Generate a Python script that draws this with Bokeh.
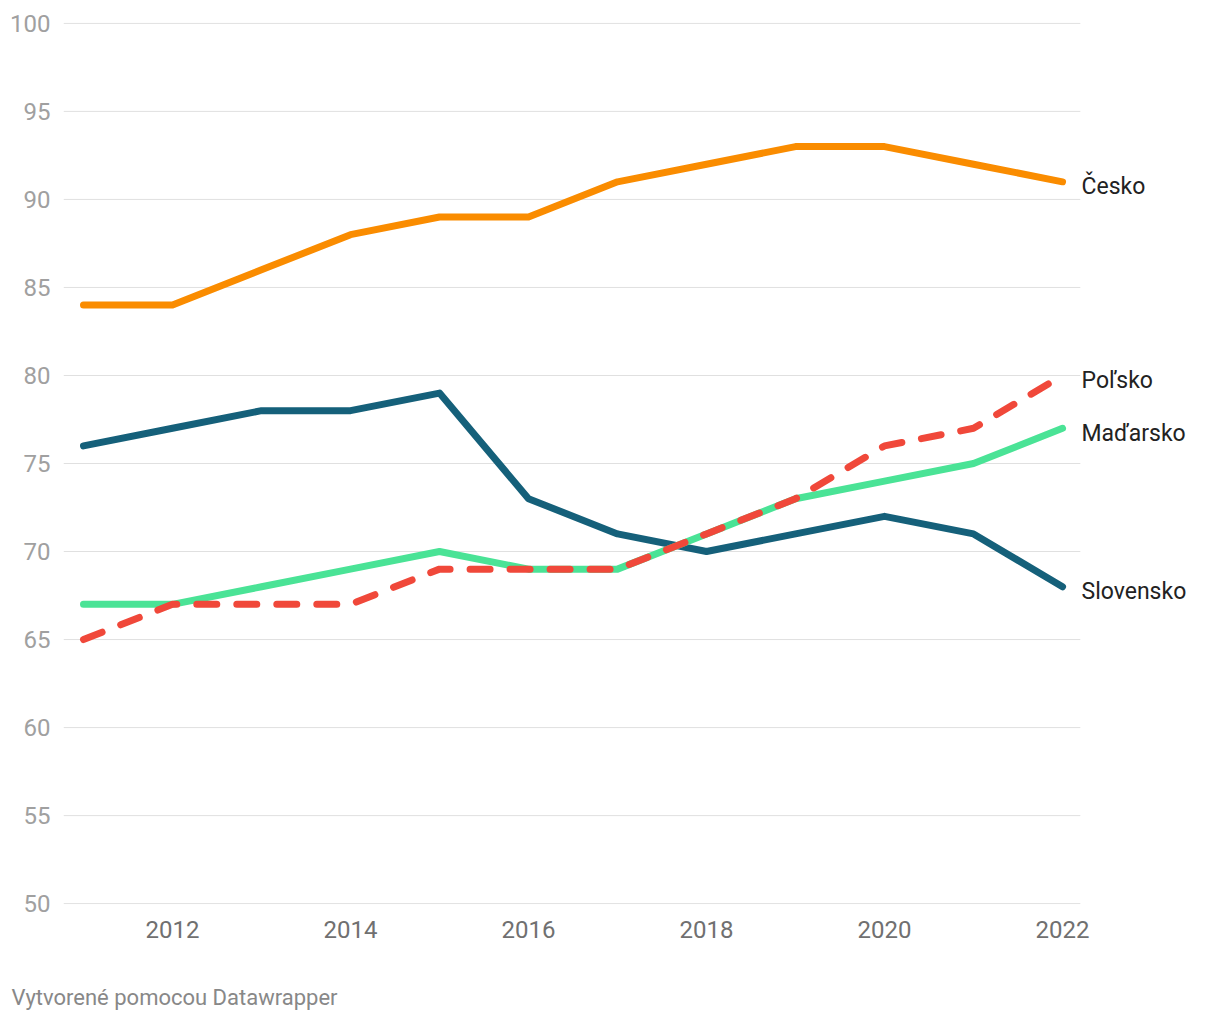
from bokeh.plotting import figure
from bokeh.models import Title, FixedTicker, Range1d
from bokeh.core.properties import value
from bokeh.embed import file_html
from bokeh.resources import INLINE

years = [2011, 2012, 2013, 2014, 2015, 2016, 2017, 2018, 2019, 2020, 2021, 2022]
cesko = [84, 84, 86, 88, 89, 89, 91, 92, 93, 93, 92, 91]
slovensko = [76, 77, 78, 78, 79, 73, 71, 70, 71, 72, 71, 68]
madarsko = [67, 67, 68, 69, 70, 69, 69, 71, 73, 74, 75, 77]
polsko = [65, 67, 67, 67, 69, 69, 69, 71, 73, 76, 77, 80]

series_names = ["Česko", "Slovensko", "Maďarsko", "Poľsko"]
series_values = [cesko, slovensko, madarsko, polsko]
series_colors = ["#fa8c00", "#15607a", "#4ae396", "#f0483a"]
series_dash = ["solid", "solid", "solid", "20 20"]

y_ticks = [50, 55, 60, 65, 70, 75, 80, 85, 90, 95, 100]
x_ticks = [2012, 2014, 2016, 2018, 2020, 2022]
footer = "Vytvorené pomocou Datawrapper"

FONT = "Roboto"

X0 = 2010.7753
X1 = 2023.685
GRID_END = 2022.2

p = figure(width=1220, height=1020, output_backend="svg", toolbar_location=None,
           x_range=Range1d(X0, X1), y_range=Range1d(49.95, 100.05),
           min_border_left=63, min_border_right=8, min_border_top=22,
           min_border_bottom=116)
p.outline_line_color = None
p.background_fill_color = "white"
p.border_fill_color = "white"

p.xgrid.grid_line_color = None
p.ygrid.grid_line_color = None

# horizontal grid lines (stop before the end labels)
p.segment(x0=[X0] * len(y_ticks), x1=[GRID_END] * len(y_ticks), y0=y_ticks, y1=y_ticks,
          line_color="#e0e0e0", line_width=1)

p.yaxis.ticker = FixedTicker(ticks=y_ticks)
p.yaxis.axis_line_color = None
p.yaxis.major_tick_line_color = None
p.yaxis.minor_tick_line_color = None
p.yaxis.major_tick_out = 0
p.yaxis.major_tick_in = 0
p.yaxis.major_label_text_font = FONT
p.yaxis.major_label_text_font_size = "24px"
p.yaxis.major_label_text_color = "#a0a0a0"
p.yaxis.major_label_standoff = 13

p.xaxis.ticker = FixedTicker(ticks=x_ticks)
p.xaxis.axis_line_color = None
p.xaxis.major_tick_line_color = None
p.xaxis.minor_tick_line_color = None
p.xaxis.major_tick_out = 0
p.xaxis.major_tick_in = 0
p.xaxis.major_label_text_font = FONT
p.xaxis.major_label_text_font_size = "24px"
p.xaxis.major_label_text_color = "#707070"
p.xaxis.major_label_standoff = 16

for name, vals, col, dash in zip(series_names, series_values, series_colors, series_dash):
    p.line(years, vals, line_color=col, line_width=7, line_dash=dash,
           line_cap="round", line_join="round")

p.text(x=[years[-1]] * len(series_names), y=[v[-1] for v in series_values],
       text=series_names, x_offset=19, y_offset=5,
       text_font=value(FONT), text_font_size="23px", text_color="#222222",
       text_baseline="middle", text_align="left")

# invisible spacer between the x axis and the footer
spacer = Title(text=" ", text_font_size="1px", standoff=29, text_color="white")
p.add_layout(spacer, "below")

t = Title(text=footer, align="left", text_font=FONT, text_font_size="22px",
          text_color="#888888", text_font_style="normal", offset=-52, standoff=20)
p.add_layout(t, "below")

open("out.html", "w").write(file_html(p, INLINE))
